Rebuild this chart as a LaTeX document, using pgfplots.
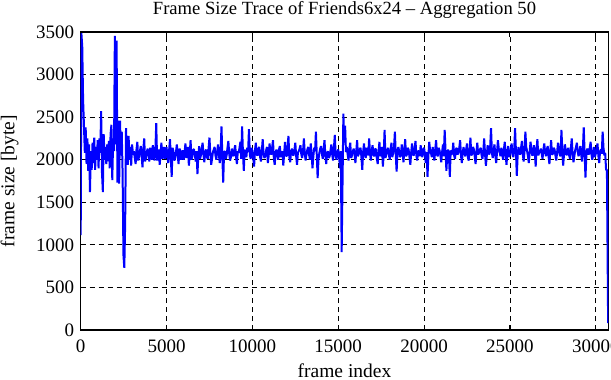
\documentclass[border=0pt]{standalone}
\usepackage{pgfplots}
\pgfplotsset{compat=1.18}
\usepackage{fontspec}
\setmainfont{Liberation Serif}
\newfontfamily\tickfont{Liberation Serif}
\begin{document}
\begin{tikzpicture}
\begin{axis}[
  scale only axis,
  width=527.6bp, height=298bp,
  xmin=0, xmax=30730, ymin=0, ymax=3500,
  xtick={0,5000,...,30000},
  ytick={0,500,...,3500},
  scaled x ticks=false,
  xticklabel={\tickfont\pgfmathprintnumber[assume math mode=true,set thousands separator={}]{\tick}},
  yticklabel={\tickfont\pgfmathprintnumber[assume math mode=true,set thousands separator={}]{\tick}},
  tick label style={font=\fontsize{19bp}{20bp}\selectfont, black},
  xticklabel style={yshift=-6bp},
  yticklabel style={xshift=-3bp},
  tick align=inside,
  major tick length=5bp,
  every tick/.style={black, line width=1bp},
  axis line style={black, line width=1.4bp},
  grid=major,
  major grid style={black, line width=0.8bp, dash pattern=on 5bp off 4bp},
  title={Frame Size Trace of Friends6x24 -- Aggregation 50},
  title style={font=\fontsize{18.6bp}{19bp}\selectfont, inner sep=0pt, at={(axis description cs:0.5,1)}, anchor=base, yshift=12bp},
  xlabel={frame index},
  xlabel style={font=\fontsize{19.5bp}{20bp}\selectfont, at={(axis description cs:0.5,0)}, anchor=base, yshift=-47bp},
  ylabel={frame size [byte]},
  ylabel style={font=\fontsize{19.5bp}{20bp}\selectfont, at={(axis description cs:-0.1345,0.5)}, anchor=center},
]
\addplot[color={rgb,255:red,0;green,0;blue,255}, line width=2bp, line join=bevel] coordinates {
(0,1115) (40,3485) (90,3330) (140,2700) (190,2400) (240,2080) (290,2380) (340,1950) (390,2250) (440,1870)
(490,2180) (540,1620) (590,2100) (640,1880) (690,2200) (740,1960) (790,2260) (840,1880) (890,2150) (940,2000)
(990,2230) (1040,1900) (1090,2250) (1140,2080) (1190,2570) (1240,1850) (1290,1620) (1340,2300) (1390,2000) (1440,2150)
(1490,1950) (1540,2180) (1590,1980) (1640,2220) (1690,1900) (1740,2300) (1790,2410) (1840,1760) (1890,2250) (1940,2100)
(1990,3455) (2040,2180) (2090,3400) (2140,1730) (2190,2460) (2240,1720) (2290,2460) (2340,2050) (2390,2330) (2440,1850)
(2490,880) (2540,730) (2590,1250) (2640,2370) (2690,2050) (2740,1940) (2790,2280) (2840,2000) (2890,2150) (2940,1930)
(2990,2180) (3050,2060)
(3100,2100) (3150,2020) (3200,1950) (3250,2120) (3300,2210) (3350,1990) (3400,2040) (3450,2100) (3500,2160) (3550,2040)
(3600,1910) (3650,2130) (3700,2250) (3750,1980) (3800,2020) (3850,2090) (3900,2130) (3950,2050)
(4000,1980) (4050,2140) (4100,2090) (4150,2000) (4200,2170) (4250,2080) (4300,1990) (4350,2110) (4400,2430) (4450,1990)
(4500,2050) (4550,2120) (4600,1940) (4650,2060) (4700,2200) (4750,2010) (4800,2080) (4850,2150) (4900,2010) (4950,2070)
(5000,2150) (5050,2030) (5100,1960) (5150,2110) (5200,2240) (5250,2020) (5300,1800) (5350,2140) (5400,2100) (5450,1990)
(5500,2020) (5550,2090) (5600,2180) (5650,2050) (5700,1950) (5750,2130) (5800,2110) (5850,2000) (5900,2060) (5950,2110)
(6000,2000) (6050,2080) (6100,2190) (6150,2020) (6200,2070) (6250,2150) (6300,1930) (6350,2060) (6400,2230) (6450,2000)
(6500,2040) (6550,2120) (6600,2120) (6650,2050) (6700,1980) (6750,2100) (6800,1830) (6850,2040) (6900,2160) (6950,2010)
(7000,2050) (7050,2130) (7100,2200) (7150,2060) (7200,1970) (7250,2090) (7300,2120) (7350,2030) (7400,2010) (7450,2140)
(7500,2260) (7550,2070) (7600,1940) (7650,2010) (7700,2090) (7750,2120) (7800,2150) (7850,2050) (7900,2000) (7950,2100)
(8000,2180) (8050,2060) (8100,1960) (8150,2110) (8200,2390) (8250,2040) (8300,1730) (8350,2090) (8400,2100) (8450,2010)
(8500,2050) (8550,2140) (8600,2220) (8650,2070) (8700,1990) (8750,2030) (8800,2130) (8850,2080) (8900,2040) (8950,2120)
(9000,2170) (9050,2030) (9100,1950) (9150,2100) (9200,2080) (9250,2140) (9300,2210) (9350,2010) (9400,2390) (9450,2080)
(9500,1870) (9550,2120) (9600,2060) (9650,2030) (9700,2140) (9750,2090) (9800,2360) (9850,2060) (9900,2010) (9950,2140)
(10000,2100) (10050,2020) (10100,1920) (10150,2110) (10200,2200) (10250,2060) (10300,2050) (10350,2130) (10400,2150) (10450,2030)
(10500,1980) (10550,2100) (10600,2240) (10650,2070) (10700,2020) (10750,2040) (10800,2110) (10850,2150) (10900,1960) (10950,2050)
(11000,2190) (11050,2090) (11100,2060) (11150,2140) (11200,2230) (11250,2010) (11300,1940) (11350,2080) (11400,2120) (11450,2060)
(11500,2000) (11550,2120) (11600,2160) (11650,2030) (11700,2070) (11750,2100) (11800,1930) (11850,2070) (11900,2210) (11950,2050)
(12000,2040) (12050,2150) (12100,2280) (12150,2030) (12200,1970) (12250,2090) (12300,2130) (12350,2060) (12400,2050) (12450,2120)
(12500,2200) (12550,2040) (12600,1940) (12650,2080) (12700,2100) (12750,2130) (12800,2170) (12850,2060) (12900,2020) (12950,2100)
(13000,2250) (13050,2080) (13100,1990) (13150,2060) (13200,2120) (13250,2150) (13300,2060) (13350,2000) (13400,2190) (13450,2070)
(13500,1900) (13550,2040) (13600,2140) (13650,2100) (13700,2330) (13750,2060) (13800,1785) (13850,2000) (13900,2080) (13950,2130)
(14000,2160) (14050,2070) (14100,2010) (14150,2120) (14200,2230) (14250,2050) (14300,1950) (14350,2080) (14400,2100) (14450,2020)
(14500,2040) (14550,2110) (14600,2180) (14650,2060) (14700,1990) (14750,2140) (14800,2290) (14850,2050) (14900,2000) (14950,2090)
(15000,2120) (15050,2040) (15100,1900) (15150,2100) (15200,915) (15300,2540) (15350,2200) (15400,2400) (15450,2090)
(15500,2150) (15550,2060) (15600,1990) (15650,2130) (15700,2200) (15750,2020) (15800,2050) (15850,2100) (15900,2130) (15950,2070)
(16000,1960) (16050,2100) (16100,2230) (16150,2040) (16200,2070) (16250,2120) (16300,2140) (16350,2030) (16400,1880) (16450,2090)
(16500,2190) (16550,2060) (16600,2020) (16650,2140) (16700,2110) (16750,2050) (16800,2250) (16850,2080) (16900,1990) (16950,2110)
(17000,2170) (17050,2060) (17100,2040) (17150,2130) (17200,2120) (17250,2010) (17300,1950) (17350,2100) (17400,2210) (17450,2040)
(17500,2080) (17550,2150) (17600,1920) (17650,2070) (17700,2350) (17750,2020) (17800,2060) (17850,2110) (17900,2140) (17950,2060)
(18000,2000) (18050,2120) (18100,2200) (18150,2030) (18200,2080) (18250,2150) (18300,2330) (18350,2060) (18400,1860) (18450,2080)
(18500,2150) (18550,2100) (18600,2030) (18650,2050) (18700,2180) (18750,2090) (18800,1970) (18850,2120) (18900,2240) (18950,2040)
(19000,2060) (19050,2140) (19100,2120) (19150,2030) (19200,1940) (19250,2090) (19300,2190) (19350,2060) (19400,2050) (19450,2130)
(19500,2220) (19550,2050) (19600,1990) (19650,2100) (19700,2100) (19750,2040) (19800,2170) (19850,2080) (19900,2030) (19950,2120)
(20000,2140) (20050,2060) (20100,1960) (20150,2090) (20200,1800) (20250,2040) (20300,2210) (20350,2110) (20400,2080) (20450,2030)
(20500,2150) (20550,2080) (20600,1990) (20650,2120) (20700,2230) (20750,2060) (20800,2040) (20850,2140) (20900,2110) (20950,2050)
(21000,1970) (21050,2090) (21100,2180) (21150,2040) (21200,2350) (21250,2100) (21300,1870) (21350,2060) (21400,2120) (21450,2030)
(21500,1800) (21550,2110) (21600,2060) (21650,2080) (21700,2200) (21750,2050) (21800,2010) (21850,2120) (21900,2140) (21950,2060)
(22000,2080) (22050,2140) (22100,2230) (22150,2050) (22200,1960) (22250,2090) (22300,2150) (22350,2070) (22400,2040) (22450,2120)
(22500,2190) (22550,2030) (22600,1990) (22650,2100) (22700,2260) (22750,2050) (22800,2070) (22850,2150) (22900,2120) (22950,2040)
(23000,1950) (23050,2090) (23100,2200) (23150,2060) (23200,2080) (23250,2120) (23300,2140) (23350,2050) (23400,2010) (23450,2100)
(23500,2250) (23550,2070) (23600,1930) (23650,2040) (23700,2170) (23750,2110) (23800,2060) (23850,2150) (23900,2370) (23950,2080)
(24000,2020) (24050,2110) (24100,2180) (24150,2050) (24200,1960) (24250,2090) (24300,2230) (24350,2130) (24400,2090) (24450,2040)
(24500,2140) (24550,2080) (24600,2000) (24650,2120) (24700,2210) (24750,2060) (24800,1940) (24850,2090) (24900,2160) (24950,2030)
(25000,2070) (25050,2120) (25100,2190) (25150,2060) (25200,2030) (25250,2110) (25300,2370) (25350,2100) (25400,1810) (25450,2050)
(25500,2150) (25550,2090) (25600,2060) (25650,2140) (25700,2220) (25750,2060) (25800,1980) (25850,2100) (25900,2330) (25950,2150)
(26000,2100) (26050,2040) (26100,1960) (26150,2090) (26200,2210) (26250,2130) (26300,2050) (26350,2060) (26400,2170) (26450,2080)
(26500,1920) (26550,2120) (26600,2240) (26650,2050) (26700,2080) (26750,2100) (26800,2130) (26850,2070) (26900,2010) (26950,2120)
(27000,2190) (27050,2090) (27100,2040) (27150,2120) (27200,2160) (27250,2040) (27300,1950) (27350,2100) (27400,2230) (27450,2060)
(27500,2070) (27550,2140) (27600,2120) (27650,2050) (27700,1990) (27750,2090) (27800,2200) (27850,2130) (27900,2060) (27950,2040)
(28000,2350) (28050,2110) (28100,1930) (28150,2060) (28200,2180) (28250,2120) (28300,2050) (28350,2090) (28400,2140) (28450,2050)
(28500,2010) (28550,2130) (28600,2250) (28650,2080) (28700,1970) (28750,2040) (28800,2110) (28850,2150) (28900,2200) (28950,2090)
(29000,2040) (29050,2100) (29100,2160) (29150,2060) (29200,1980) (29250,2130) (29300,2380) (29350,2080) (29400,1790) (29450,2040)
(29500,2130) (29550,2110) (29600,2060) (29650,2140) (29700,2210) (29750,2060) (29800,2000) (29850,2090) (29900,2150) (29950,2030)
(30000,2070) (30050,2130) (30100,2190) (30150,2050) (30200,1960) (30250,2100) (30300,2120) (30350,2070) (30400,2330) (30450,2140)
(30500,2050) (30550,2080) (30600,1880) (30650,1880) (30720,80)
};
\end{axis}
\pgfresetboundingbox
\path[use as bounding box] ([shift={(-80.7bp,-50bp)}]current axis.south west) rectangle ([shift={(2.7bp,32bp)}]current axis.north east);
\end{tikzpicture}
\end{document}
